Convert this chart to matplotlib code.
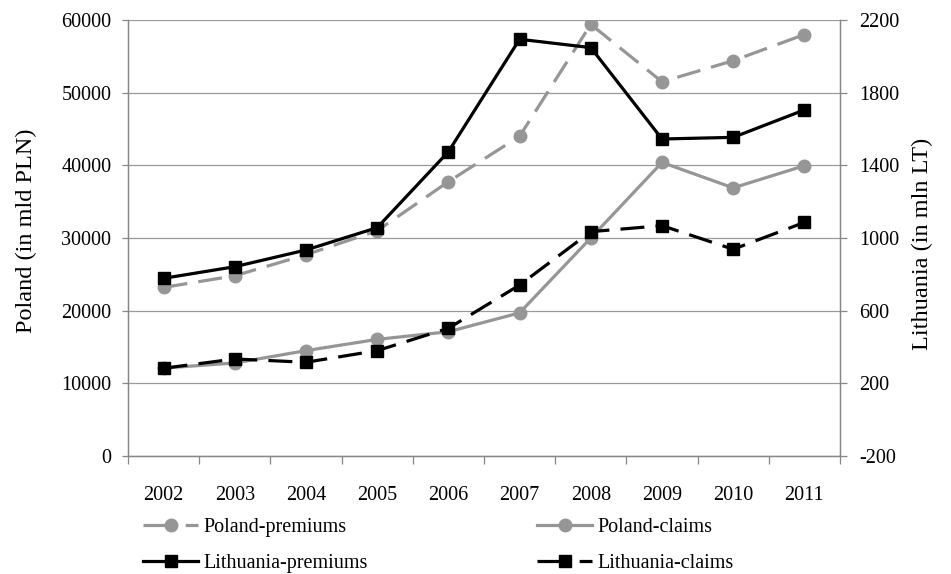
import numpy as np
import matplotlib
matplotlib.use("Agg")
from matplotlib import pyplot as plt
from matplotlib.lines import Line2D

# **data**
years = ["2002", "2003", "2004", "2005", "2006", "2007", "2008", "2009", "2010", "2011"]
poland_premiums = [23200, 24800, 27700, 31000, 37750, 44000, 59400, 51500, 54400, 58000]
poland_claims = [12100, 12800, 14500, 16050, 17100, 19700, 30000, 40400, 36900, 39950]
lithuania_premiums = [778, 842, 934, 1057, 1475, 2094, 2048, 1545, 1554, 1705]
lithuania_claims = [283, 334, 316, 380, 503, 741, 1035, 1068, 938, 1086]

plt.rcParams["font.family"] = ["Liberation Serif", "DejaVu Serif"]
plt.rcParams["font.size"] = 14.5
plt.rcParams["axes.unicode_minus"] = False

gray = "#969696"
axcol = "#878787"
dash = (0, (7.5, 3.5))

fig = plt.figure(figsize=(9.51, 5.74), dpi=100)
ax = fig.add_axes([128 / 951, 1 - 456 / 574, 712 / 951, 436 / 574])
ax2 = ax.twinx()

xs = np.arange(len(years))
ax.plot(xs, poland_premiums, color=gray, lw=2.3, ls=dash, marker="o", ms=9)
ax.plot(xs, poland_claims, color=gray, lw=2.3, marker="o", ms=9)
ax2.plot(xs, lithuania_premiums, color="k", lw=2.3, marker="s", ms=9)
ax2.plot(xs, lithuania_claims, color="k", lw=2.3, ls=dash, marker="s", ms=9)

ax.set_xlim(-0.5, 9.5)
ax.set_ylim(0, 60000)
ax.set_yticks(np.arange(0, 60001, 10000))
ax2.set_ylim(-200, 2200)
ax2.set_yticks(np.arange(-200, 2201, 400))
ax.yaxis.grid(True, color="#9a9a9a", lw=0.9)
ax.set_axisbelow(True)

# category boundaries get tick marks, centres get the labels
ax.set_xticks(np.arange(-0.5, 10, 1))
ax.set_xticklabels([])
ax.set_xticks(xs, minor=True)
ax.set_xticklabels(years, minor=True)
ax.tick_params(axis="x", which="major", length=6, color=axcol, width=0.9)
ax.tick_params(axis="x", which="minor", length=0, pad=21.5)
ax.tick_params(axis="y", length=4, color=axcol, width=0.9, pad=8)
ax2.tick_params(axis="y", length=5, color=axcol, width=0.9, pad=9)

for a in (ax, ax2):
    a.spines["top"].set_visible(False)
    for s in ("left", "right", "bottom"):
        a.spines[s].set_color(axcol)
        a.spines[s].set_linewidth(0.9)

ax.set_ylabel("Poland (in mld PLN)", fontsize=17.5)
ax.yaxis.set_label_coords(-0.128, 0.516)
ax2.set_ylabel("Lithuania (in mln LT)", fontsize=17.5)
ax2.yaxis.set_label_coords(1.101, 0.486)

# legend handles: dashed ones show the gap after the marker, as in the original
hdash = (0, (10.7, 2.5))
h1 = Line2D([], [], color=gray, lw=2.3, ls=hdash, marker="o", ms=9, label="Poland-premiums")
h2 = Line2D([], [], color=gray, lw=2.3, marker="o", ms=9, label="Poland-claims")
h3 = Line2D([], [], color="k", lw=2.3, marker="s", ms=9, label="Lithuania-premiums")
h4 = Line2D([], [], color="k", lw=2.3, ls=hdash, marker="s", ms=9, label="Lithuania-claims")

fig.legend(handles=[h1, h3, h2, h4], ncol=2, frameon=False,
           loc="upper left", bbox_to_anchor=(143 / 951, 1 - 518 / 574),
           borderpad=0, borderaxespad=0, handlelength=2.75, handletextpad=0.25,
           columnspacing=8.4, labelspacing=0.84, fontsize=14.5)

plt.savefig("out.png", dpi=100)
